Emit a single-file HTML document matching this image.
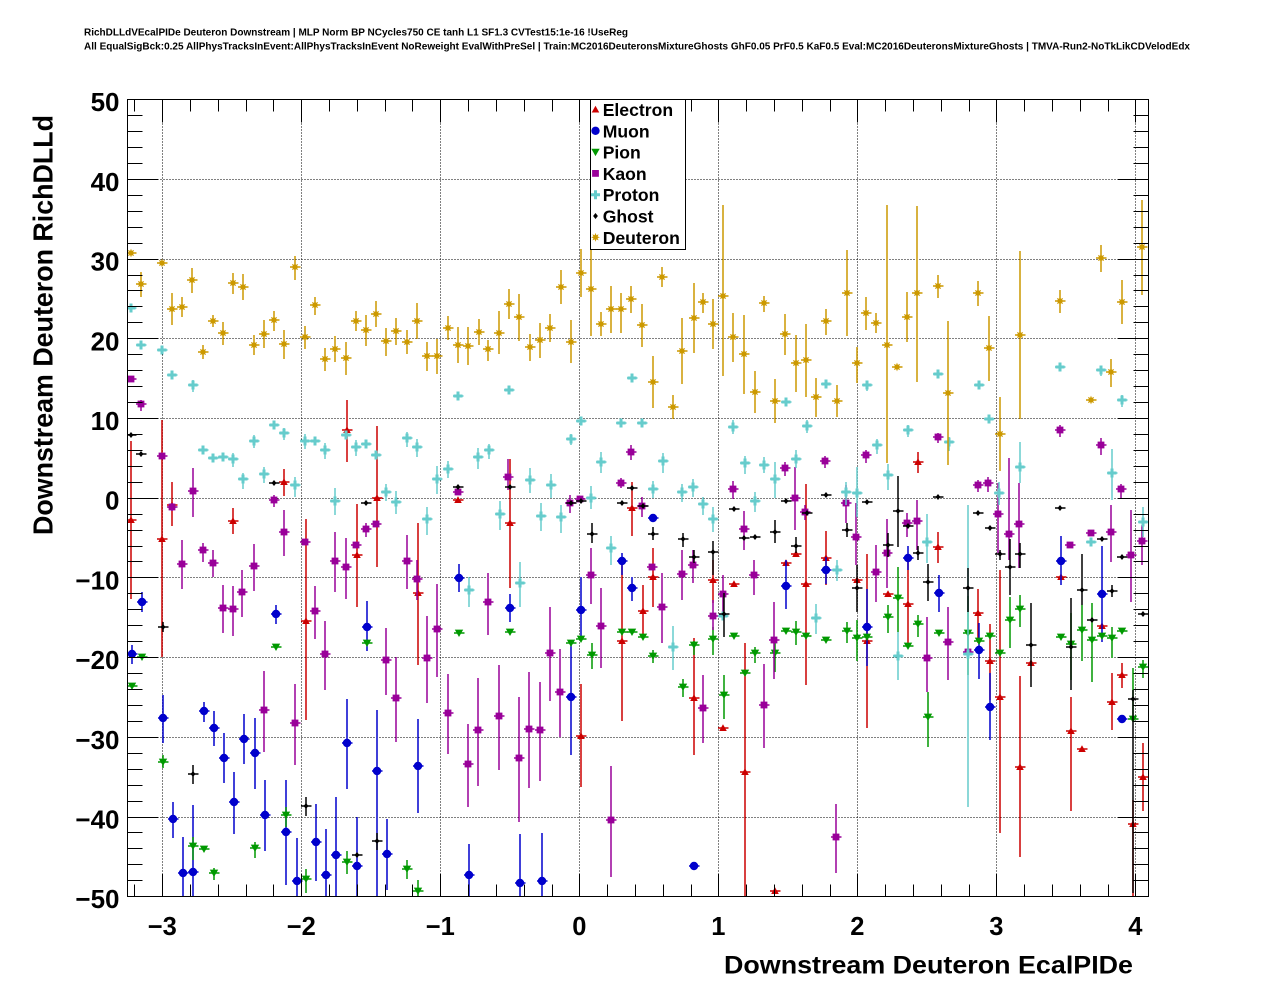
<!DOCTYPE html>
<html><head><meta charset="utf-8">
<style>
html,body{margin:0;padding:0;background:#fff;}
svg{display:block;font-family:"Liberation Sans",Arial,sans-serif;}
</style></head>
<body>
<svg id="s" width="1276" height="996" viewBox="0 0 1276 996" xmlns="http://www.w3.org/2000/svg">
<rect width="1276" height="996" fill="#fff"/>
<text x="84" y="35.5" font-size="9.7" font-weight="bold" textLength="544" lengthAdjust="spacingAndGlyphs">RichDLLdVEcalPIDe Deuteron Downstream | MLP Norm BP NCycles750 CE tanh L1 SF1.3 CVTest15:1e-16 !UseReg</text>
<text x="84" y="49.5" font-size="9.7" font-weight="bold" textLength="1106" lengthAdjust="spacingAndGlyphs">All EqualSigBck:0.25 AllPhysTracksInEvent:AllPhysTracksInEvent NoReweight EvalWithPreSel | Train:MC2016DeuteronsMixtureGhosts GhF0.05 PrF0.5 KaF0.5 Eval:MC2016DeuteronsMixtureGhosts | TMVA-Run2-NoTkLikCDVelodEdx</text>
<defs><clipPath id="c"><rect x="127.5" y="99.5" width="1021" height="797"/></clipPath></defs>
<g id="grid" stroke="#000" stroke-width="1" stroke-dasharray="1 2" fill="none" shape-rendering="crispEdges"></g>
<g id="pts" clip-path="url(#c)"></g>
<g id="axes" stroke="#000" stroke-width="1" fill="none" shape-rendering="crispEdges"></g>
<rect x="127.5" y="99.5" width="1021" height="797" fill="none" stroke="#000" stroke-width="1" shape-rendering="crispEdges"/>
<g id="labels" font-weight="bold" fill="#000"></g>
<text transform="translate(52.5,535) rotate(-90)" font-size="28" font-weight="bold" textLength="420" lengthAdjust="spacingAndGlyphs">Downstream Deuteron RichDLLd</text>
<text x="724" y="973.5" font-size="25" font-weight="bold" textLength="409" lengthAdjust="spacingAndGlyphs">Downstream Deuteron EcalPIDe</text>
<g id="legend"></g>
</svg>
<script>
(function(){
var X=function(v){return 579.3+139*v;}, Y=function(v){return 497.7-7.97*v;};
var XC=function(v){return Math.round(X(v))+0.5;}, YC=function(v){return Math.round(Y(v))+0.5;};
var g='',a='',l='';
for(var v=-3;v<=4;v++){g+='<line x1="'+XC(v)+'" y1="99.5" x2="'+XC(v)+'" y2="896.5"/>';}
for(var v=-40;v<=40;v+=10){g+='<line x1="127.5" y1="'+YC(v)+'" x2="1148.5" y2="'+YC(v)+'"/>';}
document.getElementById('grid').innerHTML=g;
for(var i=-16;i<=20;i++){var x=XC(i*0.2),mj=(i%5===0),L=mj?23:12;
 a+='<line x1="'+x+'" y1="896.5" x2="'+x+'" y2="'+(896.5-L)+'"/>';
 a+='<line x1="'+x+'" y1="99.5" x2="'+x+'" y2="'+(99.5+L)+'"/>';}
for(var v=-50;v<=50;v+=2){var y=YC(v),mj=(v%10===0),L=mj?31:15;
 a+='<line x1="127.5" y1="'+y+'" x2="'+(127.5+L)+'" y2="'+y+'"/>';
 a+='<line x1="1148.5" y1="'+y+'" x2="'+(1148.5-L)+'" y2="'+y+'"/>';}
document.getElementById('axes').innerHTML=a;
for(var v=-50;v<=50;v+=10){l+='<text x="119.5" y="'+(Y(v)+12)+'" font-size="26" text-anchor="end">'+(v<0?'\u2212'+(-v):v)+'</text>';}
for(var v=-3;v<=4;v++){l+='<text x="'+X(v)+'" y="935" font-size="25.5" text-anchor="middle">'+(v<0?'\u2212'+(-v):v)+'</text>';}
document.getElementById('labels').innerHTML=l;

var SH={
E:'M-3.8 3H3.8L0 -3.8Z',
P:'M-4.2 -3.4H4.2L0 4Z',
K:'M-3.4 -3.4H3.4V3.4H-3.4Z',
R:'M-1.5 -4.5H1.5V-1.5H4.5V1.5H1.5V4.5H-1.5V1.5H-4.5V-1.5H-1.5Z',
G:'M0 -3L2.4 0L0 3L-2.4 0Z',
D:'M4.4 0L2.1 .86L3.1 3.1L.86 2.1L0 4.4L-.86 2.1L-3.1 3.1L-2.1 .86L-4.4 0L-2.1 -.86L-3.1 -3.1L-.86 -2.1L0 -4.4L.86 -2.1L3.1 -3.1L2.1 -.86Z'
};
var COL={E:'#cc0000',M:'#0000cc',P:'#009900',K:'#990099',R:'#66cccc',G:'#000000',D:'#cc9900'};
var DATA={
E:[[131,520,441,599],[162,539,420,657],[172,505,482,526],[233,521,508,534],[284,482,469,496],[306,621,519,720],[347,430,400,462],[357,555,504,607],[377,498,426,567],[418,593,523,665],[458,500],[510,523,459,588],[581,736,684,787],[622,641,560,721],[632,508,482,536],[643,611,585,637],[653,577,548,607],[694,698,638,755],[713,580,560,603],[723,728],[734,584],[745,772,643,897],[775,891],[786,563],[796,554],[806,584,484,685],[826,558,531,585],[857,580],[867,641,554,728],[888,594],[908,604,558,643],[918,462,452,473],[938,547,532,563],[978,613,589,643],[990,661,624,700],[1000,697,570,833],[1020,767,676,857],[1031,663],[1061,577],[1071,731,697,811],[1082,749],[1102,626],[1112,702,673,730],[1122,675,663,688],[1133,824,800,896],[1143,777,743,811]],
M:[[132,654,645,664],[142,602,592,612],[163,718,695,743],[173,819,802,838],[183,873,837,896],[193,872,805,896],[204,711,702,722],[214,728,711,746],[224,758,733,783],[234,802,772,834],[244,739,714,764],[255,753,718,789],[265,815,780,851],[276,614,605,624],[286,832,780,885],[297,881,838,896],[316,842,804,881],[326,875,829,896],[336,855,797,896],[347,743,699,789],[357,866,817,896],[367,627,601,651],[377,771,710,896],[387,854,819,890],[418,766,719,813],[459,578,564,592],[469,875,844,896],[510,608,594,622],[520,883,834,896],[542,881,833,896],[571,697,643,755],[581,610,577,640],[622,561,553,575],[632,588,577,601],[653,518],[694,866],[786,586,560,609],[826,570,557,584],[867,627,589,666],[908,558,546,570],[939,593,575,612],[979,650,623,679],[990,707,673,740],[1061,561,536,585],[1102,594,546,642],[1122,719]],
P:[[132,686],[142,657],[163,762,755,768],[193,846,837,860],[204,849],[214,873,868,880],[255,848,842,858],[276,647],[286,815,807,827],[306,879,869,893],[347,862,851,874],[367,643],[407,869,860,879],[418,891,880,896],[459,633],[510,632],[571,643],[581,639],[592,655,643,669],[622,632],[632,632],[643,637],[653,656,650,663],[683,687,679,697],[694,645,641,655],[713,639,627,655],[724,695,675,719],[734,636],[745,673],[755,653,647,663],[775,653,638,672],[786,631],[796,632,621,645],[806,636],[826,640],[847,631,622,643],[857,638,620,661],[867,637],[888,617,605,633],[898,598,567,632],[908,646],[918,624,615,637],[928,717,692,747],[939,633],[968,633,596,675],[979,641],[990,636],[1000,653],[1010,620,597,648],[1020,609,595,627],[1061,637],[1071,644,613,680],[1082,630,605,661],[1092,640,603,682],[1102,636],[1112,638,627,658],[1122,631],[1133,719,668,720],[1143,667,660,678]],
K:[[131,379],[141,404,400,411],[162,456],[172,507,503,511],[182,564,540,589],[193,491,468,517],[203,550,543,562],[213,563,550,577],[223,608,585,633],[233,609,586,636],[242,592,570,617],[254,566,544,591],[264,710,671,752],[274,500,495,507],[284,532,510,556],[295,723,684,765],[305,542],[315,611,586,639],[325,654,621,690],[335,561,532,592],[346,567,538,599],[356,545],[366,529,523,537],[376,524],[386,660,628,695],[396,698,657,742],[407,561,535,589],[417,579,560,600],[427,658,616,703],[437,629,584,677],[448,713,674,754],[458,492],[468,764,724,807],[478,730,678,786],[488,602,573,635],[499,716,665,770],[508,477,459,490],[519,758,697,822],[529,729,672,788],[540,730,682,781],[550,653,607,701],[560,692,649,737],[570,503,495,513],[580,499],[591,575,548,604],[601,626,588,668],[611,820,766,877],[621,483,478,488],[631,452,445,460],[642,506,497,517],[652,567],[662,607,573,643],[682,574,550,600],[693,565,550,583],[703,708,675,743],[713,616,600,630],[723,594,575,620],[733,489,481,499],[744,529,511,550],[754,575,560,595],[764,705,664,748],[774,640,602,679],[785,468,462,476],[795,498,467,530],[805,512,505,520],[825,461,456,468],[836,837,804,873],[846,503,485,523],[856,537,503,565],[866,455,450,463],[876,572,545,602],[887,553,519,588],[907,523,513,537],[917,521,500,550],[927,658,617,692],[938,437,433,443],[948,642,607,680],[968,652],[978,485,480,492],[988,483,477,492],[998,514,483,553],[1009,534,458,560],[1019,524,483,568],[1060,430,425,437],[1070,545],[1091,533],[1101,445,438,455],[1111,532,505,562],[1121,489,484,499],[1131,555,510,602],[1142,541,525,565]],
R:[[131,308],[141,345],[162,350],[172,375],[193,385,380,392],[203,450],[213,458],[223,457],[233,459,453,467],[243,479,473,489],[254,441,435,448],[264,474,467,483],[274,425],[284,433,428,440],[295,485,477,497],[305,441,434,449],[315,441],[325,450,443,459],[335,501,488,515],[346,435],[356,447,440,456],[366,444],[376,455],[386,492,484,501],[396,502,491,514],[407,438,432,447],[417,447,439,457],[427,519,507,535],[437,479,466,494],[448,469,461,478],[458,396],[469,590,577,607],[478,457,448,469],[489,450,444,459],[500,514,501,530],[509,390],[520,583,562,607],[530,480,468,493],[541,516,503,531],[551,485,474,498],[561,517,505,533],[571,439,434,445],[581,421],[591,498,486,509],[601,462,452,473],[611,548,536,565],[621,423],[632,378],[642,423],[653,489,481,498],[663,461,453,473],[673,647,626,670],[682,492,484,502],[693,487,479,497],[703,504,497,515],[713,519,507,532],[723,616],[733,427,420,434],[745,463,456,474],[755,501,492,512],[764,465,457,473],[775,479,462,498],[786,402],[796,459,450,468],[807,426,420,433],[816,618,604,634],[826,384],[837,570,560,581],[846,492,482,505],[857,493,467,517],[867,385,382,391],[877,445,439,454],[888,475,464,490],[898,656,632,680],[908,430,425,437],[927,542,514,563],[938,374],[949,442,437,451],[968,654,505,807],[979,385],[989,419,415,423],[999,493,482,505],[1020,467,442,483],[1060,367],[1091,542],[1101,370,366,376],[1112,473,449,500],[1122,400,395,407],[1143,522,507,537]],
G:[[131,435],[141,454],[163,627,622,632],[193,774,765,784],[274,483],[306,806,797,816],[357,855],[366,503],[377,841,833,850],[458,487],[510,487],[571,503],[581,501],[592,534,523,543],[622,503],[632,488],[643,506],[653,534,527,540],[683,539,533,547],[694,557,550,563],[713,552,541,575],[724,614,593,637],[734,509],[744,538],[755,537],[775,532,520,543],[786,501],[796,546,537,553],[807,513],[826,495],[847,530,523,537],[857,588,565,612],[867,502],[888,545,533,557],[898,511,476,547],[908,526],[918,553,546,560],[928,582,564,601],[938,497],[968,588,568,612],[978,513],[990,528],[1000,554,550,560],[1010,567,539,595],[1020,554,543,568],[1031,645,603,687],[1060,508],[1071,647,598,690],[1082,590,554,605],[1092,620],[1102,539],[1112,591,585,597],[1122,557],[1133,699,690,893],[1143,614]],
D:[[131,253],[141,284,272,297],[162,263],[172,309,293,325],[182,307,297,317],[192,280,268,293],[203,352,345,359],[213,321,315,327],[223,333,322,345],[233,283,273,294],[243,287,274,300],[254,345,335,355],[264,334,320,348],[274,320,311,331],[284,344,330,359],[295,267,256,280],[305,337,326,349],[315,305,297,315],[325,359,348,371],[335,349,336,362],[346,358,342,375],[356,321,311,331],[366,330,315,346],[376,314,301,327],[386,341,328,356],[396,331,318,345],[407,342,330,354],[417,321,303,339],[427,356,342,371],[437,356,339,374],[448,328,316,340],[458,345,327,363],[468,346,327,365],[479,332,319,345],[488,349,340,361],[499,333,311,354],[509,304,289,319],[519,317,294,341],[530,347,334,361],[540,340,323,358],[550,328,314,342],[561,287,270,304],[571,342,320,363],[581,273,249,297],[591,289,243,336],[601,324,312,336],[611,309,286,333],[621,309,293,333],[631,299,286,313],[642,325,304,347],[653,382,356,408],[662,277,267,287],[673,407,395,419],[682,351,318,384],[694,318,283,353],[703,302,293,313],[713,324,299,349],[723,296,205,376],[733,337,313,362],[744,354,315,394],[755,392,371,413],[764,303,296,312],[775,401,379,423],[785,334,314,355],[796,363,335,392],[806,360,324,397],[816,397,378,417],[826,321,309,335],[837,401,385,417],[847,293,250,336],[857,363,347,383],[866,313,297,330],[876,323,313,333],[887,345,205,463],[897,367],[907,317,292,342],[917,293,206,382],[938,286,275,298],[948,393,321,465],[978,293,281,306],[989,348,316,381],[1000,434,397,471],[1020,335,251,419],[1060,301,290,313],[1091,400],[1101,258,245,272],[1111,372,359,387],[1122,302,280,324],[1142,247,200,295]]
};
function mk(k,x,y){
 if(k==='M') return '<circle cx="'+x+'" cy="'+y+'" r="4.2" stroke="none"/>';
 return '<path d="'+SH[k]+'" transform="translate('+x+','+y+')" stroke="none"/>';
}
var h='';
['E','M','P','K','R','G','D'].forEach(function(k){
 var c=COL[k];
 h+='<g stroke="'+c+'" fill="'+c+'" stroke-width="1.5">';
 DATA[k].forEach(function(p){
  var x=p[0],y=p[1];
  h+='<line x1="'+(x-5)+'" y1="'+y+'" x2="'+(x+5.5)+'" y2="'+y+'"/>';
  if(p.length>3) h+='<line x1="'+x+'" y1="'+p[2]+'" x2="'+x+'" y2="'+p[3]+'"/>';
  h+=mk(k,x,y);
 });
 h+='</g>';
});
document.getElementById('pts').innerHTML=h;

var lg='<rect x="590.5" y="99.5" width="95" height="150" fill="#fff" stroke="#000" stroke-width="1" shape-rendering="crispEdges"/>';
var names=[['E','Electron'],['M','Muon'],['P','Pion'],['K','Kaon'],['R','Proton'],['G','Ghost'],['D','Deuteron']];
names.forEach(function(n,i){
 var cy=109.5+21.3*i;
 lg+='<g fill="'+COL[n[0]]+'">'+mk(n[0],595.5,cy)+'</g>';
 lg+='<text x="602.7" y="'+(cy+6.5)+'" font-size="17.6" font-weight="bold" fill="#000">'+n[1]+'</text>';
});
document.getElementById('legend').innerHTML=lg;
})();
</script>
</body></html>
